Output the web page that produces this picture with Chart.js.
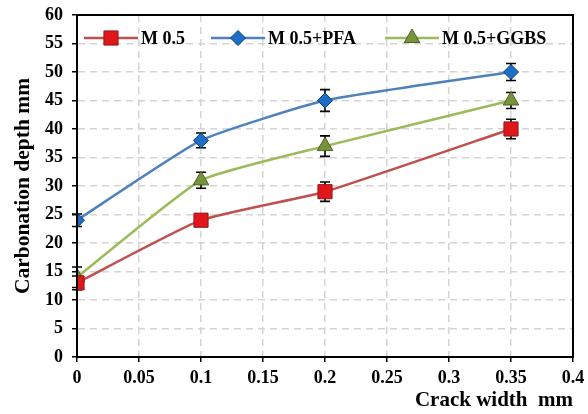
<!DOCTYPE html>
<html>
<head>
<meta charset="utf-8">
<script src="https://cdn.jsdelivr.net/npm/chart.js@4"></script>
<style>
  html, body { margin: 0; padding: 0; background: #fff; }
  #wrap { width: 588px; height: 414px; }
</style>
</head>
<body>
<div id="wrap"><canvas id="chart"></canvas></div>
<script>
'use strict';

// ---- data ----
const crackWidth = [0, 0.1, 0.2, 0.35];
const m05 = [13, 24, 29, 40];
const m05Err = [1.2, 1.0, 1.7, 1.7];
const pfa = [24, 38, 45, 50];
const pfaErr = [1.1, 1.3, 1.9, 1.5];
const ggbs = [14, 31, 37, 45];
const ggbsErr = [1.8, 1.4, 1.8, 1.4];

const xTickLabels = ['0', '0.05', '0.1', '0.15', '0.2', '0.25', '0.3', '0.35', '0.4'];
const yTickLabels = ['0', '5', '10', '15', '20', '25', '30', '35', '40', '45', '50', '55', '60'];
const seriesNames = ['M 0.5', 'M 0.5+PFA', 'M 0.5+GGBS'];

const FONT = "'Liberation Serif', 'Times New Roman', serif";

function points(ys) {
  return crackWidth.map((x, i) => ({ x, y: ys[i] }));
}

function makeSet(label, ys, errs, line, fill, edge, style, radius) {
  return {
    label,
    data: points(ys),
    errors: errs,
    borderColor: line,
    borderWidth: 2.5,
    pointStyle: style,
    pointRadius: radius,
    pointBackgroundColor: fill,
    pointBorderColor: edge,
    pointBorderWidth: 1,
    tension: 0.15,
    showLine: true
  };
}

// error bars, drawn under the markers
const errorBars = {
  id: 'errorBars',
  beforeDatasetsDraw(chart) {
    const { ctx, scales: { x, y } } = chart;
    ctx.save();
    ctx.strokeStyle = '#000';
    ctx.lineWidth = 1.6;
    chart.data.datasets.forEach(ds => {
      ds.data.forEach((p, i) => {
        const e = ds.errors[i];
        const px = x.getPixelForValue(p.x);
        const top = y.getPixelForValue(p.y + e);
        const bot = y.getPixelForValue(p.y - e);
        ctx.beginPath();
        ctx.moveTo(px, top); ctx.lineTo(px, bot);
        ctx.moveTo(px - 5, top); ctx.lineTo(px + 5, top);
        ctx.moveTo(px - 5, bot); ctx.lineTo(px + 5, bot);
        ctx.stroke();
      });
    });
    ctx.restore();
  }
};

// box frame + in-plot legend
const frameLegend = {
  id: 'frameLegend',
  afterDraw(chart) {
    const { ctx, chartArea: a } = chart;
    ctx.save();
    ctx.strokeStyle = '#000';
    ctx.lineWidth = 2;
    ctx.strokeRect(a.left, a.top, a.right - a.left, a.bottom - a.top);

    const starts = [84, 211, 385];
    const ly = 38;
    chart.data.datasets.forEach((ds, i) => {
      const x0 = starts[i];
      ctx.strokeStyle = ds.borderColor;
      ctx.lineWidth = 2.5;
      ctx.beginPath();
      ctx.moveTo(x0, ly); ctx.lineTo(x0 + 54, ly);
      ctx.stroke();
      ctx.fillStyle = ds.pointBackgroundColor;
      ctx.strokeStyle = ds.pointBorderColor;
      ctx.lineWidth = 1;
      Chart.helpers.drawPoint(ctx, { pointStyle: ds.pointStyle, radius: ds.pointRadius, rotation: 0, borderWidth: 1 }, x0 + 27, ly);
      ctx.fillStyle = '#000';
      ctx.font = 'bold 18px ' + FONT;
      ctx.textBaseline = 'middle';
      ctx.textAlign = 'left';
      ctx.fillText(ds.label, x0 + 57, ly + 1);
    });
    ctx.restore();
  }
};

const tickFont = { family: FONT, size: 18, weight: 'bold' };

new Chart(document.getElementById('chart'), {
  type: 'scatter',
  data: {
    datasets: [
      makeSet(seriesNames[0], m05, m05Err, '#C0504D', '#E0161B', '#8B1A1A', 'rect', 10),
      makeSet(seriesNames[1], pfa, pfaErr, '#4F81BD', '#1C6FC4', '#0E3E6E', 'rectRot', 7.5),
      makeSet(seriesNames[2], ggbs, ggbsErr, '#9BBB59', '#77933C', '#4F6228', 'triangle', 9)
    ]
  },
  options: {
    responsive: true,
    maintainAspectRatio: false,
    animation: false,
    layout: { padding: { top: 15, right: 15, left: 0, bottom: 0 } },
    plugins: {
      legend: { display: false },
      tooltip: { enabled: false }
    },
    scales: {
      x: {
        type: 'linear',
        min: 0, max: 0.4,
        afterBuildTicks: s => { s.ticks = xTickLabels.map(v => ({ value: +v })); },
        afterFit: s => { s.height = 57; s.paddingLeft = 0; s.paddingRight = 0; },
        grid: { color: '#d4d4d4', lineWidth: 1.5, tickColor: '#000', tickLength: 5, tickWidth: 1.5, tickBorderDash: [] },
        border: { display: true, color: '#000', width: 2, dash: [7, 5] },
        ticks: {
          color: '#000', font: tickFont, padding: 6, maxRotation: 0, autoSkip: false,
          callback: (v, i) => xTickLabels[i]
        },
        title: {
          display: true, text: 'Crack width  mm', align: 'end', color: '#000',
          font: { family: FONT, size: 21, weight: 'bold' }, padding: { top: 0, bottom: 1 }
        }
      },
      y: {
        min: 0, max: 60,
        afterBuildTicks: s => { s.ticks = yTickLabels.map(v => ({ value: +v })); },
        afterFit: s => { s.width = 77; s.paddingTop = 0; s.paddingBottom = 0; },
        grid: { color: '#d4d4d4', lineWidth: 1.5, tickColor: '#000', tickLength: 5, tickWidth: 1.5, tickBorderDash: [] },
        border: { display: true, color: '#000', width: 2, dash: [7, 5] },
        ticks: {
          color: '#000', font: tickFont, padding: 9,
          callback: (v, i) => yTickLabels[i]
        },
        title: {
          display: true, text: 'Carbonation depth mm', color: '#000',
          font: { family: FONT, size: 21.5, weight: 'bold' }, padding: { top: 11, bottom: 0 }
        }
      }
    }
  },
  plugins: [errorBars, frameLegend]
});
</script>
</body>
</html>
